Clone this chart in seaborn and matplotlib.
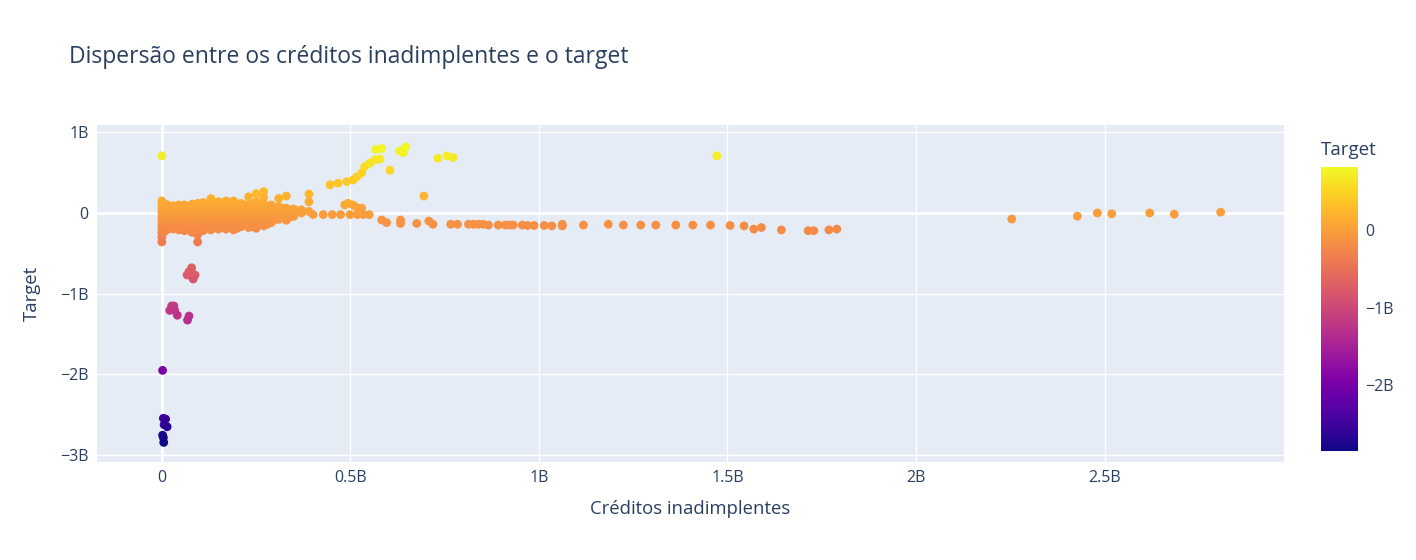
import numpy as np
import pandas as pd
import matplotlib
matplotlib.use("Agg")
import matplotlib.pyplot as plt
import seaborn as sns
from matplotlib.ticker import FuncFormatter, FixedLocator

# values in billions (B)
# dense wedge near the origin, one column of y values per x
cluster_x = [0.000, 0.005, 0.015, 0.030, 0.045, 0.060, 0.080, 0.095, 0.110, 0.130,
             0.150, 0.170, 0.190, 0.210, 0.230, 0.250, 0.270, 0.290, 0.310, 0.330,
             0.350, 0.370, 0.390]
cluster_y = [
    [0.15, 0.10, 0.05, 0.0, -0.05, -0.10, -0.15, -0.20, -0.25, -0.30, -0.36],
    [0.12, 0.06, 0.0, -0.06, -0.12, -0.18, -0.24],
    [0.10, 0.04, -0.02, -0.08, -0.14, -0.20],
    [0.09, 0.03, -0.03, -0.09, -0.15, -0.20],
    [0.10, 0.04, -0.02, -0.08, -0.14, -0.21],
    [0.10, 0.05, 0.0, -0.06, -0.12, -0.18, -0.22],
    [0.11, 0.05, -0.01, -0.07, -0.13, -0.19, -0.24],
    [0.12, 0.06, 0.0, -0.06, -0.12, -0.18, -0.27, -0.36],
    [0.13, 0.07, 0.01, -0.05, -0.11, -0.17, -0.22],
    [0.18, 0.08, 0.02, -0.04, -0.10, -0.16, -0.21],
    [0.14, 0.08, 0.02, -0.04, -0.10, -0.16, -0.20],
    [0.15, 0.09, 0.03, -0.03, -0.09, -0.15, -0.20],
    [0.15, 0.08, 0.02, -0.04, -0.10, -0.16, -0.21],
    [0.12, 0.07, 0.01, -0.05, -0.11, -0.17],
    [0.20, 0.10, 0.05, -0.01, -0.07, -0.13, -0.18],
    [0.24, 0.14, 0.08, 0.03, -0.03, -0.09, -0.15, -0.19],
    [0.265, 0.195, 0.12, 0.06, 0.01, -0.05, -0.11, -0.16],
    [0.10, 0.05, 0.0, -0.06, -0.12],
    [0.18, 0.08, 0.03, -0.02, -0.08],
    [0.21, 0.06, 0.01, -0.04, -0.09],
    [0.05, 0.0, -0.04],
    [0.04, 0.0],
    [0.235, 0.14, 0.02],
]

# staggered columns between the ones above, so the wedge reads as one blob
fill_x = [0.010, 0.022, 0.038, 0.052, 0.070, 0.088, 0.102, 0.120, 0.140, 0.160,
          0.180, 0.200, 0.220, 0.240, 0.260, 0.280, 0.300, 0.320, 0.340]
fill_y = [
    [0.08, 0.02, -0.04, -0.10, -0.16, -0.22],
    [0.07, 0.01, -0.05, -0.11, -0.17],
    [0.07, 0.01, -0.05, -0.11, -0.17, -0.19],
    [0.07, 0.01, -0.05, -0.11, -0.17, -0.20],
    [0.08, 0.02, -0.03, -0.09, -0.15, -0.21],
    [0.09, 0.03, -0.03, -0.09, -0.15, -0.21],
    [0.10, 0.04, -0.02, -0.08, -0.14, -0.20],
    [0.10, 0.04, -0.02, -0.08, -0.14, -0.19],
    [0.11, 0.05, -0.01, -0.07, -0.13, -0.18],
    [0.12, 0.06, 0.0, -0.06, -0.12, -0.18],
    [0.12, 0.06, 0.0, -0.06, -0.12, -0.18],
    [0.11, 0.05, -0.01, -0.07, -0.13, -0.19],
    [0.10, 0.04, -0.02, -0.08, -0.14],
    [0.11, 0.05, 0.0, -0.06, -0.12, -0.17],
    [0.10, 0.04, -0.02, -0.08, -0.13],
    [0.08, 0.03, -0.03, -0.09, -0.14],
    [0.07, 0.02, -0.03, -0.08],
    [0.06, 0.01, -0.05],
    [0.04, -0.01, -0.05],
]

# rising yellow branch and scattered high points
upper_x = [0.0, 0.446, 0.467, 0.490, 0.507, 0.517, 0.530, 0.538, 0.552, 0.565, 0.578,
           0.567, 0.583, 0.605, 0.630, 0.640, 0.647, 0.695, 0.732, 0.756, 0.772, 1.472,
           0.485, 0.494, 0.507, 0.516, 0.530]
upper_y = [0.71, 0.35, 0.37, 0.39, 0.41, 0.45, 0.50, 0.575, 0.62, 0.66, 0.67,
           0.79, 0.80, 0.53, 0.77, 0.75, 0.82, 0.21, 0.68, 0.71, 0.69, 0.71,
           0.10, 0.12, 0.10, 0.07, 0.06]

# flat branch slightly below zero
lower_x = [0.401, 0.428, 0.452, 0.474, 0.499, 0.519, 0.534, 0.550,
           0.583, 0.596, 0.633, 0.633, 0.676, 0.708, 0.719, 0.766, 0.784, 0.813, 0.826,
           0.839, 0.852, 0.866, 0.892, 0.911, 0.923, 0.932, 0.956, 0.970, 0.987, 1.014,
           1.034, 1.062, 1.062, 1.118, 1.184, 1.224, 1.270, 1.310, 1.363, 1.408, 1.455,
           1.507, 1.544, 1.570, 1.590, 1.643, 1.714, 1.729, 1.769, 1.790,
           2.254, 2.428, 2.481, 2.519, 2.620, 2.685, 2.808]
lower_y = [-0.02, -0.02, -0.02, -0.02, -0.02, -0.02, -0.02, -0.02,
           -0.087, -0.12, -0.087, -0.13, -0.13, -0.10, -0.14, -0.14, -0.14, -0.14, -0.14,
           -0.14, -0.14, -0.15, -0.15, -0.15, -0.15, -0.15, -0.15, -0.155, -0.155, -0.155,
           -0.16, -0.14, -0.16, -0.15, -0.14, -0.15, -0.15, -0.15, -0.15, -0.15, -0.15,
           -0.155, -0.16, -0.20, -0.18, -0.21, -0.22, -0.22, -0.21, -0.20,
           -0.075, -0.04, 0.0, -0.01, 0.0, -0.015, 0.01]

# negative outliers close to x = 0
neg_x = [0.079, 0.072, 0.067, 0.088, 0.083, 0.079,
         0.026, 0.032, 0.021, 0.034, 0.041, 0.072, 0.068,
         0.002, 0.004, 0.010, 0.006, 0.014, 0.002, 0.004, 0.005]
neg_y = [-0.68, -0.73, -0.77, -0.77, -0.82, -0.74,
         -1.155, -1.155, -1.21, -1.21, -1.27, -1.28, -1.33,
         -1.955, -2.55, -2.56, -2.63, -2.655, -2.76, -2.79, -2.85]

xs, ys = [], []
for cx, col in zip(cluster_x + fill_x, cluster_y + fill_y):
    xs += [cx] * len(col)
    ys += col
xs += upper_x + lower_x + neg_x
ys += upper_y + lower_y + neg_y
df = pd.DataFrame({"creditos": np.array(xs) * 1e9, "target": np.array(ys) * 1e9})

txt = "#2a3f5f"
plt.rcParams["font.family"] = ["Open Sans", "DejaVu Sans"]

fig = plt.figure(figsize=(14.16, 5.6), dpi=100)
ax = fig.add_axes([97 / 1416, 1 - 462 / 560, (1284 - 97) / 1416, (462 - 125) / 560])
ax.set_facecolor("#E5ECF6")

vmin, vmax = df.target.min(), df.target.max()
norm = plt.Normalize(vmin, vmax)
sns.scatterplot(data=df, x="creditos", y="target", hue="target", palette="plasma",
                hue_norm=norm, legend=False, s=40, linewidth=0, ax=ax, zorder=3)

ax.set_xlim(-0.172e9, 2.976e9)
ax.set_ylim(-3.093e9, 1.093e9)

def fmt_b(v, pos=None):
    if abs(v) < 1:
        return "0"
    s = f"{v / 1e9:g}B"
    return s.replace("-", "\u2212")

ax.xaxis.set_major_locator(FixedLocator(np.arange(0, 3.0e9, 0.5e9)))
ax.yaxis.set_major_locator(FixedLocator(np.arange(-3e9, 1.5e9, 1e9)))
ax.xaxis.set_major_formatter(FuncFormatter(fmt_b))
ax.yaxis.set_major_formatter(FuncFormatter(fmt_b))
ax.grid(True, color="white", linewidth=1)
ax.set_axisbelow(True)
ax.axhline(0, color="white", linewidth=2, zorder=1)
ax.axvline(0, color="white", linewidth=2, zorder=1)
for sp in ax.spines.values():
    sp.set_visible(False)
ax.tick_params(length=0, labelsize=11.5, colors=txt, pad=6)

ax.set_xlabel("Créditos inadimplentes", fontsize=13.3, color=txt, labelpad=10)
ax.set_ylabel("Target", fontsize=13.3, color=txt, labelpad=14)
fig.text(69 / 1416, 1 - 57 / 560, "Dispersão entre os créditos inadimplentes e o target",
         fontsize=16.5, color=txt, va="center", ha="left")

cax = fig.add_axes([1321 / 1416, 1 - 451 / 560, 37 / 1416, 284 / 560])
sm = plt.cm.ScalarMappable(norm=norm, cmap="plasma")
cb = fig.colorbar(sm, cax=cax)
cb.outline.set_visible(False)
cb.set_ticks([-2e9, -1e9, 0])
cb.ax.yaxis.set_major_formatter(FuncFormatter(fmt_b))
cb.ax.tick_params(length=0, labelsize=11.5, colors=txt, pad=5)
fig.text(1321 / 1416, 1 - 150 / 560, "Target", fontsize=13.5, color=txt,
         va="center", ha="left")

fig.savefig("out.png", dpi=100)
